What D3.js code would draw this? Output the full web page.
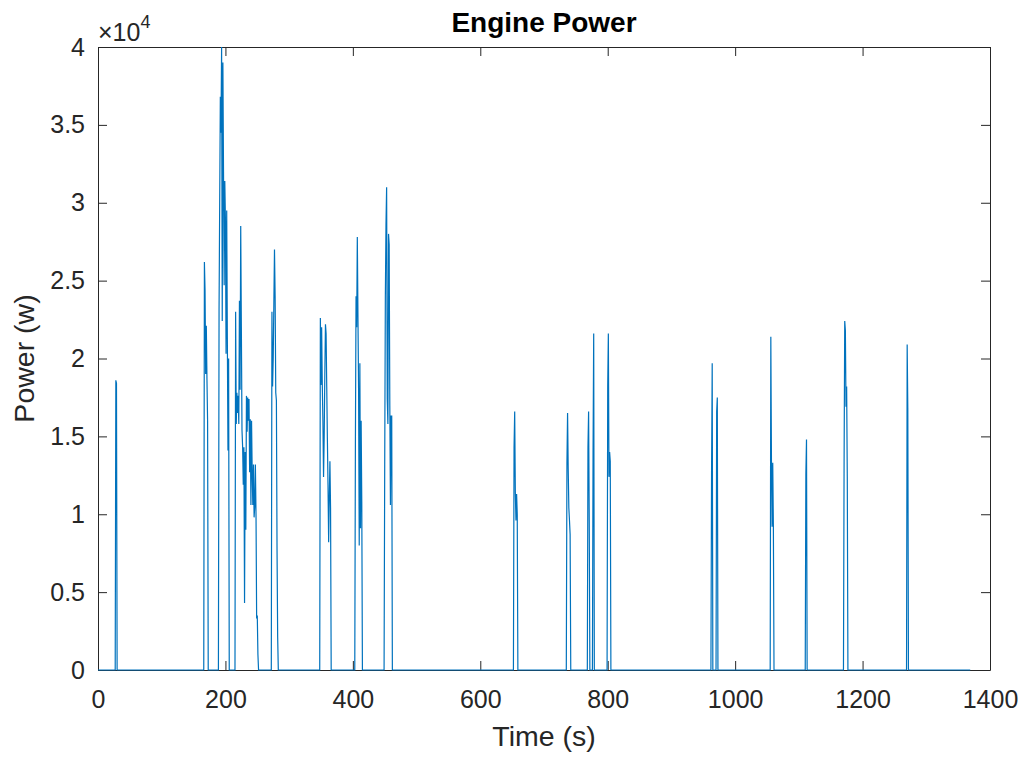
<!DOCTYPE html>
<html>
<head>
<meta charset="utf-8">
<script src="https://cdn.jsdelivr.net/npm/d3@7"></script>
<style>
  body { margin: 0; background: #fff; }
  svg { font-family: "Liberation Sans", Arial, Helvetica, sans-serif; }
</style>
</head>
<body>
<svg id="chart"></svg>
<script>
// time axis runs 0..timeEnd at 1 s steps, power is zero outside of the bursts
const timeEnd = 1369;
const burstStart = [28, 167, 190, 216, 273, 349, 404, 450, 653, 736, 769, 777, 800, 963, 971, 1056, 1111, 1171, 1270];
const burstPower = [
  [18600, 18400],
  [26200, 24400, 19000, 22100, 18700, 16000],
  [23100, 30000, 36800, 34500, 40000, 22400, 39000, 32000, 24700, 31400, 28900, 20300, 29500, 21300, 14100, 20000],
  [23000, 15800, 17800, 16500, 17600, 15800, 23700, 18000, 28500, 22000, 15400, 14300, 11900, 14300, 4300, 14000,
   9000, 17600, 15300, 17500, 16000, 17400, 12700, 16100, 10600, 16000, 12700, 10600, 13200, 9800, 10500, 13200,
   10000, 3300, 3500, 1000],
  [23000, 18200, 20000, 23500, 27000, 24000, 17800, 17300, 7700, 2100],
  [22600, 18300, 22000, 18400, 16000, 12400, 15000, 19000, 22200, 21600, 18200, 14900, 11900, 8200, 11000, 13400, 10400],
  [14600, 24000, 22000, 27800, 22700, 18000, 8000, 19700, 9100, 16000, 10800],
  [13200, 24000, 28600, 31000, 17400, 15800, 28000, 27300, 17000, 10600, 16300, 16300],
  [14300, 16600, 11400, 9600, 11300, 10000],
  [13300, 16500, 12900, 10400, 9600, 8700],
  [14300, 16600, 9600],
  [14000, 21600],
  [18200, 21600, 12400, 14000, 13400],
  [12800, 19700],
  [16600, 17500],
  [21400, 13400, 9200, 13300, 9300],
  [12600, 14800],
  [13300, 22400, 21800, 16900, 18200, 12400],
  [20900, 16800]
];
const xTicks = [0, 200, 400, 600, 800, 1000, 1200, 1400];
const yTicks = [0, 5000, 10000, 15000, 20000, 25000, 30000, 35000, 40000];

class LineChart {

    constructor(_config, _data) {
      this.config = {
        parentElement: _config.parentElement,
        containerWidth: _config.containerWidth || 1026,
        containerHeight: _config.containerHeight || 759,
        margin: _config.margin || {top: 47, right: 36, bottom: 89, left: 98}
      }
      this.data = _data;
      this.initVis();
    }

    initVis() {
        let vis = this;

        vis.width = vis.config.containerWidth - vis.config.margin.left - vis.config.margin.right;
        vis.height = vis.config.containerHeight - vis.config.margin.top - vis.config.margin.bottom;

        vis.xScale = d3.scaleLinear()
            .domain([0, 1400])
            .range([0, vis.width]);
        vis.yScale = d3.scaleLinear()
            .domain([0, 40000])
            .range([vis.height, 0]);

        const tickLen = 9;
        vis.xAxis = d3.axisBottom(vis.xScale)
            .tickValues(xTicks)
            .tickSize(-tickLen)
            .tickSizeOuter(0)
            .tickPadding(20)
            .tickFormat(d3.format('d'));
        vis.yAxis = d3.axisLeft(vis.yScale)
            .tickValues(yTicks)
            .tickSize(-tickLen)
            .tickSizeOuter(0)
            .tickPadding(13)
            .tickFormat(d => d / 10000);
        vis.xAxisTop = d3.axisTop(vis.xScale)
            .tickValues(xTicks).tickSize(-tickLen).tickSizeOuter(0).tickFormat('');
        vis.yAxisRight = d3.axisRight(vis.yScale)
            .tickValues(yTicks).tickSize(-tickLen).tickSizeOuter(0).tickFormat('');

        vis.svg = d3.select(vis.config.parentElement)
            .attr('width', vis.config.containerWidth)
            .attr('height', vis.config.containerHeight);

        vis.chart = vis.svg.append('g')
            .attr('transform', `translate(${vis.config.margin.left},${vis.config.margin.top})`);

        vis.svg.append('defs').append('clipPath')
            .attr('id', 'plot-clip')
          .append('rect')
            .attr('x', -1)
            .attr('y', -1)
            .attr('width', vis.width + 2)
            .attr('height', vis.height + 2);

        vis.xAxisG = vis.chart.append('g')
            .attr('class', 'axis x-axis')
            .attr('transform', `translate(0,${vis.height})`);
        vis.yAxisG = vis.chart.append('g')
            .attr('class', 'axis y-axis');
        vis.xAxisTopG = vis.chart.append('g')
            .attr('class', 'axis');
        vis.yAxisRightG = vis.chart.append('g')
            .attr('class', 'axis')
            .attr('transform', `translate(${vis.width},0)`);

        // line goes over the axes, like the original
        vis.marks = vis.chart.append('g')
            .attr('clip-path', 'url(#plot-clip)');

        // title and axis titles
        vis.svg.append('text')
            .attr('x', vis.config.margin.left + vis.width / 2)
            .attr('y', 32)
            .attr('text-anchor', 'middle')
            .style('font-size', '28px')
            .style('font-weight', 'bold')
            .style('fill', '#000')
            .text('Engine Power');

        vis.svg.append('text')
            .attr('x', vis.config.margin.left + vis.width / 2)
            .attr('y', 746)
            .attr('text-anchor', 'middle')
            .style('font-size', '28.5px')
            .style('fill', '#262626')
            .text('Time (s)');

        vis.svg.append('text')
            .attr('transform', `translate(34,${vis.config.margin.top + vis.height / 2}) rotate(-90)`)
            .attr('text-anchor', 'middle')
            .style('font-size', '28.5px')
            .style('fill', '#262626')
            .text('Power (w)');

        // exponent label over the y axis
        const expo = vis.svg.append('text')
            .attr('x', 98)
            .attr('y', 41)
            .style('font-size', '25px')
            .style('fill', '#262626');
        expo.append('tspan').text('\u00d710');
        expo.append('tspan')
            .attr('dy', -13)
            .style('font-size', '18px')
            .text('4');
    }

    updateVis() {
        let vis = this;
        vis.xValue = d => d.time;
        vis.yValue = d => d.power;

        vis.line = d3.line()
            .x(d => vis.xScale(vis.xValue(d)))
            .y(d => vis.yScale(vis.yValue(d)));

        vis.renderVis();
    }

    renderVis() {
        let vis = this;

        vis.marks.selectAll('.chart-line')
            .data([vis.data])
            .join('path')
                .attr('class', 'chart-line')
                .attr('fill', 'none')
                .attr('stroke', '#0072BD')
                .attr('stroke-width', 1.2)
                .attr('d', vis.line);

        vis.xAxisG.call(vis.xAxis);
        vis.yAxisG.call(vis.yAxis);
        vis.xAxisTopG.call(vis.xAxisTop);
        vis.yAxisRightG.call(vis.yAxisRight);

        vis.chart.selectAll('.axis path.domain')
            .attr('stroke', '#262626')
            .attr('stroke-width', 1);
        vis.chart.selectAll('.axis .tick line')
            .attr('stroke', '#262626')
            .attr('stroke-width', 1);
        vis.chart.selectAll('.axis text')
            .style('font-size', '25px')
            .style('font-family', 'inherit')
            .style('fill', '#262626');
    }
}

// build the full 1 s series from the bursts
const series = [];
for (let t = 0; t <= timeEnd; t++) series.push({time: t, power: 0});
burstStart.forEach((s, i) => {
  burstPower[i].forEach((p, j) => { series[s + j].power = p; });
});

const chart = new LineChart({parentElement: '#chart'}, series);
chart.updateVis();
</script>
</body>
</html>
